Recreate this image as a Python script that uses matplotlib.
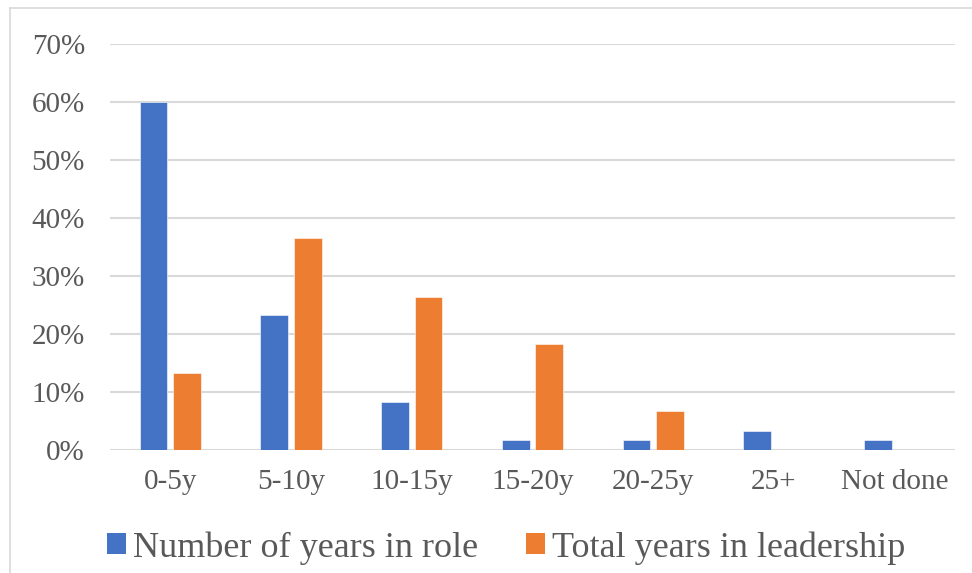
import numpy as np
import matplotlib
matplotlib.use("Agg")
import matplotlib.pyplot as plt
from matplotlib.lines import Line2D
from matplotlib.patches import Patch
from matplotlib.ticker import FuncFormatter

categories = ["0-5y", "5-10y", "10-15y", "15-20y", "20-25y", "25+", "Not done"]
years_in_role = [60.0, 23.3, 8.3, 1.7, 1.7, 3.3, 1.7]
years_in_leadership = [13.2, 36.5, 26.3, 18.3, 6.7, 0.0, 0.0]
series_names = ["Number of years in role", "Total years in leadership"]

BLUE = "#4472C4"
ORANGE = "#ED7D31"
GRID = "#D9D9D9"
TEXT = "#595959"

plt.rcParams["font.family"] = ["Liberation Serif", "DejaVu Serif"]

W, H = 972, 573
fig = plt.figure(figsize=(W / 100, H / 100), dpi=100)
ax = fig.add_axes([110 / W, 123 / H, 845 / W, 406 / H])

x = np.arange(len(categories))
width = 0.23
offset = 0.139
ax.bar(x - offset, years_in_role, width, color=BLUE, edgecolor="white", linewidth=0.4, zorder=3)
ax.bar(x + offset, years_in_leadership, width, color=ORANGE, edgecolor="white", linewidth=0.4, zorder=3)

ax.set_xlim(-0.5, len(categories) - 0.5)
ax.set_ylim(0, 70)
ax.set_yticks(range(0, 71, 10))
ax.yaxis.set_major_formatter(FuncFormatter(lambda v, _: f"{v:.0f}%"))
ax.set_xticks(x)
ax.set_xticklabels(categories)
ax.grid(axis="y", color=GRID, linewidth=1.5, zorder=0)
for side in ("top", "right", "left", "bottom"):
    ax.spines[side].set_visible(False)
ax.tick_params(axis="both", length=0, labelsize=21, labelcolor=TEXT)
ax.tick_params(axis="y", pad=18)
ax.tick_params(axis="x", pad=14)

# outer chart frame (top and left edges only)
fig.add_artist(Line2D([10 / W, 1.0], [1 - 8 / H, 1 - 8 / H], color=GRID, linewidth=1.2))
fig.add_artist(Line2D([10 / W, 10 / W], [0, 1 - 8 / H], color=GRID, linewidth=1.2))

handles = [Patch(facecolor=BLUE), Patch(facecolor=ORANGE)]
fig.legend(handles, series_names, loc="center", bbox_to_anchor=(0.521, 1 - 548 / H),
           ncol=2, frameon=False, fontsize=26, labelcolor=TEXT,
           handlelength=0.52, handleheight=0.52, handletextpad=0.2, columnspacing=1.34)

fig.savefig("out.png", dpi=100)
